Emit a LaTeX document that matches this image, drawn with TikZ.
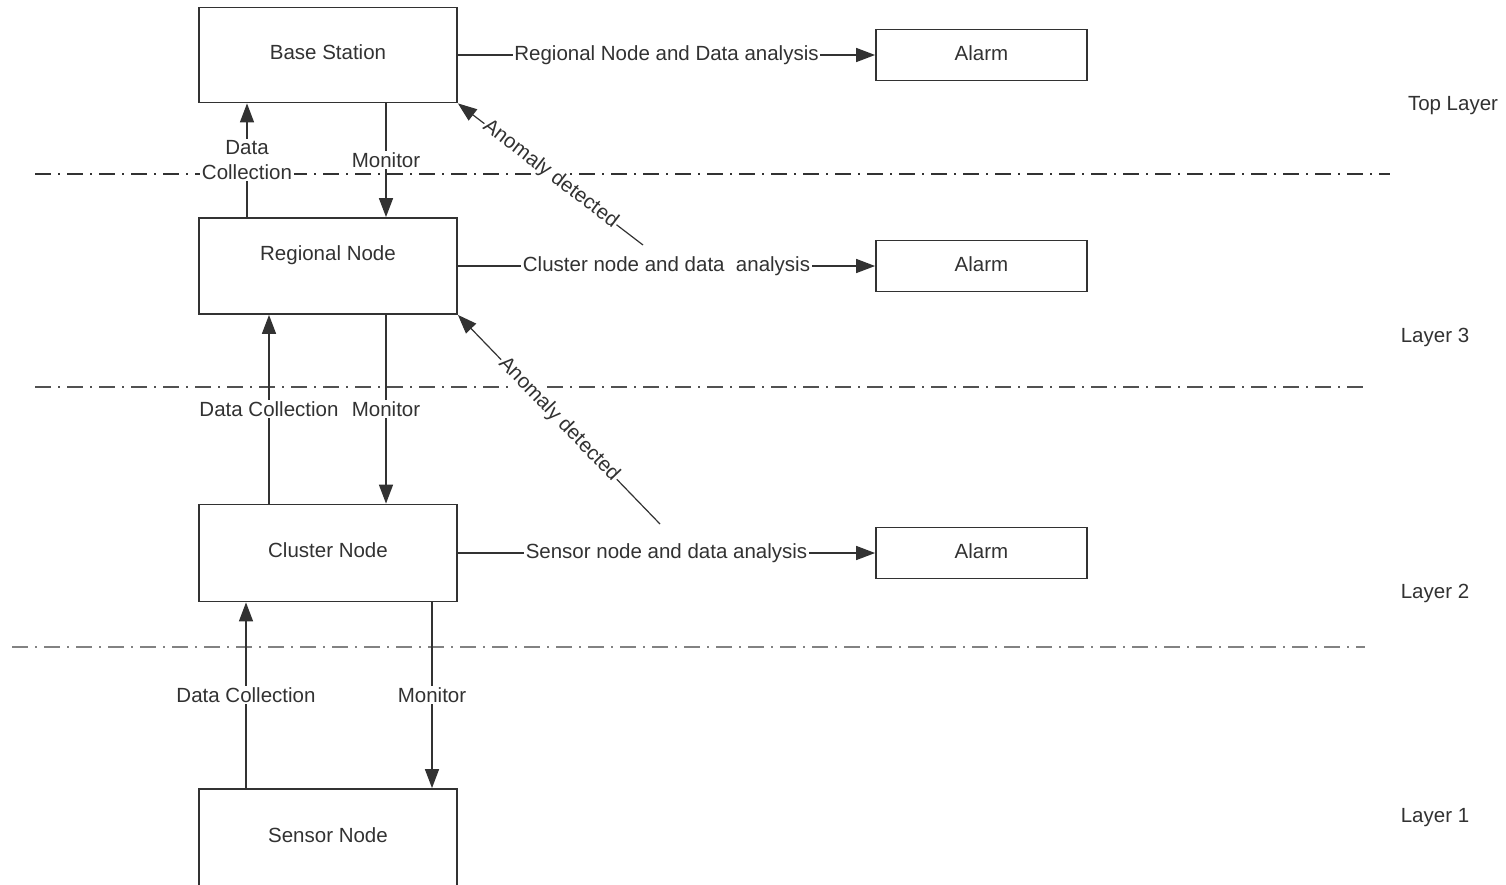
\documentclass[tikz,border=0pt]{standalone}
\usepackage{fontspec}
\setmainfont{Liberation Sans}
\usetikzlibrary{arrows.meta,calc}

\definecolor{ink}{RGB}{50,50,50}
\definecolor{dashgray}{RGB}{130,130,130}
\newcommand{\labfont}{\fontsize{20.5}{25}\selectfont}

\begin{document}
\begin{tikzpicture}[
  x=1pt, y=-1pt,
  box/.style={draw=ink, line width=1.8pt, minimum width=258pt, minimum height=95pt,
              inner sep=0pt, text=ink, font=\labfont, text height=15pt, text depth=6pt},
  alarm/.style={draw=ink, line width=1.8pt, minimum width=211pt, minimum height=51pt,
              inner sep=0pt, text=ink, font=\labfont, text height=15pt, text depth=4pt},
  conn/.style={ink, line width=1.5pt, -{Triangle[length=19pt,width=14pt]}},
  lab/.style={fill=white, inner sep=1.5pt, text=ink, font=\labfont, align=center},
  layerline/.style={line width=2pt, dash pattern=on 16pt off 7pt on 2pt off 7pt}
]

\useasboundingbox (0,0) rectangle (1506,884);

% --- Layer separators ---
\draw[layerline, ink]      (35,174) -- (1390,174);
\draw[layerline, ink!85]   (35,387) -- (1368,387);
\draw[layerline, dashgray] (12,647) -- (1365,647);

% --- Layer names ---
\node[lab] (top) at (1453,106) {Top Layer};
\node[lab] (l3)  at (1435,337) {Layer 3};
\node[lab] (l2)  at (1435,593) {Layer 2};
\node[lab] (l1)  at (1435,818) {Layer 1};

% --- Hierarchy of nodes ---
\node[box] (bs) at (328,55) {Base Station};
\node[box, minimum height=96pt, text depth=26pt] (rn) at (328,266) {Regional Node};
\node[box, minimum height=97pt] (cn) at (328,553) {Cluster Node};
\node[box, minimum height=102pt, text depth=10pt] (sn) at (328,840) {Sensor Node};

% --- Alarms ---
\node[alarm] (al1) at (981.5,55)  {Alarm};
\node[alarm] (al2) at (981.5,266) {Alarm};
\node[alarm] (al3) at (981.5,553) {Alarm};

% --- Analysis towards the alarms ---
\draw[conn] (bs.east) -- node[lab] {Regional Node and Data analysis} (al1.west);
\draw[conn] (rn.east) -- node[lab] {Cluster node and data\ \ analysis} (al2.west);
\draw[conn] (cn.east) -- node[lab] {Sensor node and data analysis} (al3.west);

% --- Data collection (up) and monitor (down) ---
\draw[conn] ([xshift=-81pt]rn.north) -- node[lab] {Data\\Collection} ([xshift=-81pt]bs.south);
\draw[conn] ([xshift=58pt]bs.south) -- node[lab] {Monitor} ([xshift=58pt]rn.north);

\draw[conn] ([xshift=-59pt]cn.north) -- node[lab] {Data Collection} ([xshift=-59pt]rn.south);
\draw[conn] ([xshift=58pt]rn.south) -- node[lab] {Monitor} ([xshift=58pt]cn.north);

\draw[conn] ([xshift=-82pt]sn.north) -- node[lab] {Data Collection} ([xshift=-82pt]cn.south);
\draw[conn] ([xshift=104pt]cn.south) -- node[lab] {Monitor} ([xshift=104pt]sn.north);

% --- Anomaly reports ---
\coordinate (an1) at (643,245);
\coordinate (an2) at (660,524);
\draw[conn, line width=1.2pt] (an1) -- node[lab, sloped, inner sep=1pt] {Anomaly detected} (bs.south east);
\draw[conn, line width=1.2pt] (an2) -- node[lab, sloped, inner sep=1pt] {Anomaly detected} (rn.south east);

\end{tikzpicture}
\end{document}
